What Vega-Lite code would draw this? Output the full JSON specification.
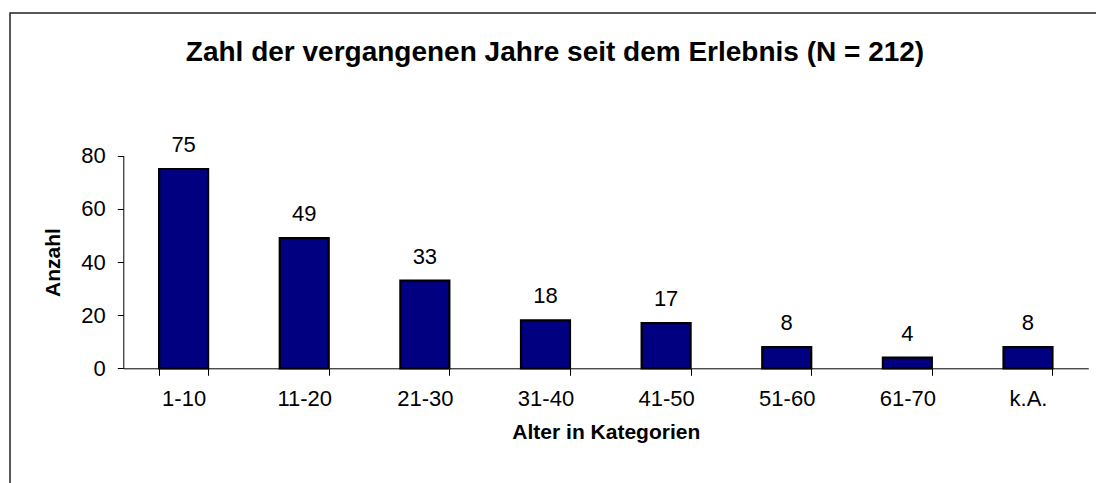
{
  "$schema": "https://vega.github.io/schema/vega-lite/v6.json",
  "width": 1100,
  "height": 480,
  "autosize": {"type": "none"},
  "padding": {"left": 10, "top": 13, "right": 0, "bottom": 0},
  "background": "white",
  "title": {
    "text": "Zahl der vergangenen Jahre seit dem Erlebnis (N = 212)",
    "font": "Liberation Sans",
    "fontSize": 28,
    "fontWeight": "bold",
    "color": "black",
    "anchor": "middle",
    "frame": "group",
    "baseline": "alphabetic",
    "offset": -50,
    "dy": 26,
    "dx": -5
  },
  "config": {
    "view": {"stroke": "#222222", "strokeWidth": 1.5},
    "font": "Liberation Sans"
  },
  "data": {
    "values": [
      {"Kategorie": "1-10", "Anzahl": 75},
      {"Kategorie": "11-20", "Anzahl": 49},
      {"Kategorie": "21-30", "Anzahl": 33},
      {"Kategorie": "31-40", "Anzahl": 18},
      {"Kategorie": "41-50", "Anzahl": 17},
      {"Kategorie": "51-60", "Anzahl": 8},
      {"Kategorie": "61-70", "Anzahl": 4},
      {"Kategorie": "k.A.", "Anzahl": 8}
    ]
  },
  "encoding": {
    "x": {
      "field": "Kategorie",
      "type": "nominal",
      "sort": null,
      "scale": {"range": [113.3, 1078.3], "paddingInner": 0.594, "paddingOuter": 0.297},
      "axis": {
        "title": "Alter in Kategorien",
        "labelAngle": 0,
        "tickBand": "extent",
        "tickSize": 7,
        "labelFontSize": 22,
        "labelPadding": 13,
        "labelColor": "black",
        "titleFontSize": 21,
        "titleFontWeight": "bold",
        "titleColor": "black",
        "titlePadding": 12,
        "offset": -124.7,
        "domainColor": "black",
        "tickColor": "black",
        "grid": false
      }
    },
    "y": {
      "field": "Anzahl",
      "type": "quantitative",
      "scale": {"domain": [0, 80], "range": [355.3, 142.7], "nice": false, "zero": true},
      "axis": {
        "title": "Anzahl",
        "values": [0, 20, 40, 60, 80],
        "tickSize": 6,
        "labelFontSize": 22,
        "labelPadding": 12,
        "labelColor": "black",
        "titleFontSize": 21,
        "titleFontWeight": "bold",
        "titleColor": "black",
        "titlePadding": 17,
        "offset": -113.3,
        "domainColor": "black",
        "tickColor": "black",
        "grid": false
      }
    }
  },
  "layer": [
    {
      "mark": {"type": "bar", "color": "#000080", "stroke": "black", "strokeWidth": 2.2}
    },
    {
      "mark": {"type": "text", "baseline": "alphabetic", "dy": -17, "fontSize": 22, "color": "black", "font": "Liberation Sans"},
      "encoding": {"text": {"field": "Anzahl", "type": "quantitative"}}
    }
  ]
}
